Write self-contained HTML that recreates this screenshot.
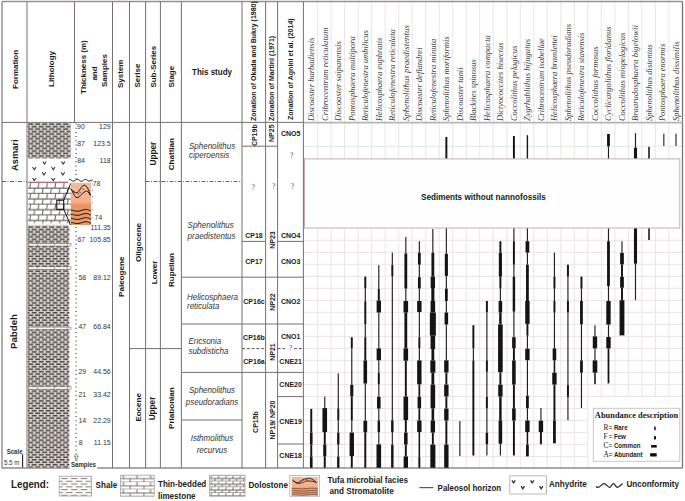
<!DOCTYPE html><html><head><meta charset="utf-8"><style>html,body{margin:0;padding:0;background:#fff;}svg{display:block;}</style></head><body>
<svg width="685" height="501" viewBox="0 0 685 501">
<defs>
<pattern id="shd" patternUnits="userSpaceOnUse" x="28" y="0.4" width="7" height="4.9"><rect width="7" height="4.9" fill="#cec7c3"/><rect x="0.1" y="0.38" width="5.2" height="1.5" rx="0.7" fill="#524a47"/><rect x="3.6" y="2.83" width="5.2" height="1.5" rx="0.7" fill="#524a47"/><rect x="-3.4" y="2.83" width="5.2" height="1.5" rx="0.7" fill="#524a47"/><ellipse cx="6.0" cy="1.1" rx="0.6" ry="0.8" fill="#f2eeec"/><ellipse cx="2.5" cy="3.55" rx="0.6" ry="0.8" fill="#f2eeec"/></pattern>
<pattern id="dol" patternUnits="userSpaceOnUse" x="28" y="183" width="8.4" height="10.8"><rect width="8.4" height="10.8" fill="#fff"/><line x1="0" y1="5.1" x2="8.4" y2="5.1" stroke="#4a4442" stroke-width="1.0"/><line x1="0" y1="10.5" x2="8.4" y2="10.5" stroke="#4a4442" stroke-width="1.0"/><line x1="1.6" y1="5.1" x2="2.6" y2="0" stroke="#4a4442" stroke-width="0.9"/><line x1="5.8" y1="10.5" x2="6.8" y2="5.1" stroke="#4a4442" stroke-width="0.9"/></pattern>
<pattern id="shl" patternUnits="userSpaceOnUse" x="60.5" y="477" width="9.8" height="5.6"><rect width="9.8" height="5.6" fill="#fff"/><rect x="0.6" y="1.0" width="6.6" height="1.0" fill="#807674"/><rect x="5.5" y="3.8" width="6.6" height="1.0" fill="#807674"/><rect x="-4.3" y="3.8" width="6.6" height="1.0" fill="#807674"/></pattern>
<pattern id="lim" patternUnits="userSpaceOnUse" x="120.4" y="475" width="13.6" height="7.2"><rect width="13.6" height="7.2" fill="#fff"/><line x1="0" y1="3.6" x2="13.6" y2="3.6" stroke="#6a6260" stroke-width="0.9"/><line x1="0" y1="7.2" x2="13.6" y2="7.2" stroke="#6a6260" stroke-width="0.9"/><line x1="3" y1="0" x2="3" y2="3.6" stroke="#6a6260" stroke-width="0.9"/><line x1="9.8" y1="3.6" x2="9.8" y2="7.2" stroke="#6a6260" stroke-width="0.9"/></pattern>
<pattern id="dolL" patternUnits="userSpaceOnUse" x="209.6" y="475.6" width="7.2" height="5.8"><rect width="7.2" height="5.8" fill="#fff"/><line x1="0" y1="2.9" x2="7.2" y2="2.9" stroke="#5a5250" stroke-width="0.9"/><line x1="0" y1="5.8" x2="7.2" y2="5.8" stroke="#5a5250" stroke-width="0.9"/><line x1="1.4" y1="2.9" x2="2.2" y2="0" stroke="#5a5250" stroke-width="0.8"/><line x1="5.0" y1="5.8" x2="5.8" y2="2.9" stroke="#5a5250" stroke-width="0.8"/></pattern>
<linearGradient id="tufa" x1="0" y1="0" x2="0" y2="1"><stop offset="0" stop-color="#f6ba9a"/><stop offset="0.45" stop-color="#f4b08e"/><stop offset="0.53" stop-color="#ec9462"/><stop offset="1" stop-color="#ee9a6a"/></linearGradient>
</defs>
<rect width="685" height="501" fill="#fff"/>
<line x1="317.61" y1="1.50" x2="317.61" y2="468.00" stroke="#e9e2e2" stroke-width="0.9"/>
<line x1="331.12" y1="1.50" x2="331.12" y2="468.00" stroke="#e9e2e2" stroke-width="0.9"/>
<line x1="344.63" y1="1.50" x2="344.63" y2="468.00" stroke="#e9e2e2" stroke-width="0.9"/>
<line x1="358.14" y1="1.50" x2="358.14" y2="468.00" stroke="#e9e2e2" stroke-width="0.9"/>
<line x1="371.65" y1="1.50" x2="371.65" y2="468.00" stroke="#e9e2e2" stroke-width="0.9"/>
<line x1="385.16" y1="1.50" x2="385.16" y2="468.00" stroke="#e9e2e2" stroke-width="0.9"/>
<line x1="398.67" y1="1.50" x2="398.67" y2="468.00" stroke="#e9e2e2" stroke-width="0.9"/>
<line x1="412.18" y1="1.50" x2="412.18" y2="468.00" stroke="#e9e2e2" stroke-width="0.9"/>
<line x1="425.69" y1="1.50" x2="425.69" y2="468.00" stroke="#e9e2e2" stroke-width="0.9"/>
<line x1="439.20" y1="1.50" x2="439.20" y2="468.00" stroke="#e9e2e2" stroke-width="0.9"/>
<line x1="452.71" y1="1.50" x2="452.71" y2="468.00" stroke="#e9e2e2" stroke-width="0.9"/>
<line x1="466.22" y1="1.50" x2="466.22" y2="468.00" stroke="#e9e2e2" stroke-width="0.9"/>
<line x1="479.73" y1="1.50" x2="479.73" y2="468.00" stroke="#e9e2e2" stroke-width="0.9"/>
<line x1="493.24" y1="1.50" x2="493.24" y2="468.00" stroke="#e9e2e2" stroke-width="0.9"/>
<line x1="506.75" y1="1.50" x2="506.75" y2="468.00" stroke="#e9e2e2" stroke-width="0.9"/>
<line x1="520.26" y1="1.50" x2="520.26" y2="468.00" stroke="#e9e2e2" stroke-width="0.9"/>
<line x1="533.77" y1="1.50" x2="533.77" y2="468.00" stroke="#e9e2e2" stroke-width="0.9"/>
<line x1="547.28" y1="1.50" x2="547.28" y2="468.00" stroke="#e9e2e2" stroke-width="0.9"/>
<line x1="560.79" y1="1.50" x2="560.79" y2="468.00" stroke="#e9e2e2" stroke-width="0.9"/>
<line x1="574.30" y1="1.50" x2="574.30" y2="468.00" stroke="#e9e2e2" stroke-width="0.9"/>
<line x1="587.81" y1="1.50" x2="587.81" y2="468.00" stroke="#e9e2e2" stroke-width="0.9"/>
<line x1="601.32" y1="1.50" x2="601.32" y2="396.60" stroke="#e9e2e2" stroke-width="0.9"/>
<line x1="614.83" y1="1.50" x2="614.83" y2="396.60" stroke="#e9e2e2" stroke-width="0.9"/>
<line x1="628.34" y1="1.50" x2="628.34" y2="396.60" stroke="#e9e2e2" stroke-width="0.9"/>
<line x1="641.85" y1="1.50" x2="641.85" y2="396.60" stroke="#e9e2e2" stroke-width="0.9"/>
<line x1="655.36" y1="1.50" x2="655.36" y2="396.60" stroke="#e9e2e2" stroke-width="0.9"/>
<line x1="668.87" y1="1.50" x2="668.87" y2="396.60" stroke="#e9e2e2" stroke-width="0.9"/>
<line x1="303.40" y1="146.30" x2="682.50" y2="146.30" stroke="#e9e2e2" stroke-width="0.9"/>
<line x1="303.40" y1="240.30" x2="682.50" y2="240.30" stroke="#e9e2e2" stroke-width="0.9"/>
<line x1="303.40" y1="252.31" x2="682.50" y2="252.31" stroke="#e9e2e2" stroke-width="0.9"/>
<line x1="303.40" y1="264.32" x2="682.50" y2="264.32" stroke="#e9e2e2" stroke-width="0.9"/>
<line x1="303.40" y1="276.33" x2="682.50" y2="276.33" stroke="#e9e2e2" stroke-width="0.9"/>
<line x1="303.40" y1="288.34" x2="682.50" y2="288.34" stroke="#e9e2e2" stroke-width="0.9"/>
<line x1="303.40" y1="300.35" x2="682.50" y2="300.35" stroke="#e9e2e2" stroke-width="0.9"/>
<line x1="303.40" y1="312.36" x2="682.50" y2="312.36" stroke="#e9e2e2" stroke-width="0.9"/>
<line x1="303.40" y1="324.37" x2="682.50" y2="324.37" stroke="#e9e2e2" stroke-width="0.9"/>
<line x1="303.40" y1="336.38" x2="682.50" y2="336.38" stroke="#e9e2e2" stroke-width="0.9"/>
<line x1="303.40" y1="348.39" x2="682.50" y2="348.39" stroke="#e9e2e2" stroke-width="0.9"/>
<line x1="303.40" y1="360.40" x2="682.50" y2="360.40" stroke="#e9e2e2" stroke-width="0.9"/>
<line x1="303.40" y1="372.41" x2="682.50" y2="372.41" stroke="#e9e2e2" stroke-width="0.9"/>
<line x1="303.40" y1="384.42" x2="682.50" y2="384.42" stroke="#e9e2e2" stroke-width="0.9"/>
<line x1="303.40" y1="396.43" x2="682.50" y2="396.43" stroke="#e9e2e2" stroke-width="0.9"/>
<line x1="303.40" y1="408.44" x2="587.81" y2="408.44" stroke="#e9e2e2" stroke-width="0.9"/>
<line x1="303.40" y1="420.45" x2="587.81" y2="420.45" stroke="#e9e2e2" stroke-width="0.9"/>
<line x1="303.40" y1="432.46" x2="587.81" y2="432.46" stroke="#e9e2e2" stroke-width="0.9"/>
<line x1="303.40" y1="444.47" x2="587.81" y2="444.47" stroke="#e9e2e2" stroke-width="0.9"/>
<line x1="303.40" y1="456.48" x2="587.81" y2="456.48" stroke="#e9e2e2" stroke-width="0.9"/>
<rect x="310.28" y="408.90" width="1.95" height="23.70" fill="#141414"/>
<rect x="309.94" y="432.60" width="2.63" height="12.00" fill="#141414"/>
<rect x="310.28" y="444.60" width="1.95" height="11.90" fill="#141414"/>
<rect x="309.94" y="456.50" width="2.63" height="11.50" fill="#141414"/>
<rect x="324.19" y="396.60" width="1.15" height="11.50" fill="#1e1e1e"/>
<rect x="322.46" y="408.10" width="4.60" height="23.90" fill="#141414"/>
<rect x="323.79" y="432.00" width="1.95" height="12.50" fill="#141414"/>
<rect x="323.21" y="444.50" width="3.10" height="11.80" fill="#141414"/>
<rect x="323.79" y="456.30" width="1.95" height="11.70" fill="#141414"/>
<rect x="337.70" y="373.30" width="1.15" height="35.00" fill="#1e1e1e"/>
<rect x="337.30" y="408.30" width="1.95" height="12.10" fill="#141414"/>
<rect x="337.70" y="420.40" width="1.15" height="12.20" fill="#1e1e1e"/>
<rect x="337.10" y="432.60" width="2.34" height="12.00" fill="#141414"/>
<rect x="337.70" y="444.60" width="1.15" height="11.90" fill="#1e1e1e"/>
<rect x="337.10" y="456.50" width="2.34" height="11.50" fill="#141414"/>
<rect x="350.81" y="337.20" width="1.95" height="11.20" fill="#141414"/>
<rect x="351.21" y="348.40" width="1.15" height="36.40" fill="#1e1e1e"/>
<rect x="350.23" y="384.80" width="3.10" height="11.60" fill="#141414"/>
<rect x="350.81" y="396.40" width="1.95" height="24.10" fill="#141414"/>
<rect x="351.21" y="420.50" width="1.15" height="12.10" fill="#1e1e1e"/>
<rect x="349.60" y="432.60" width="4.37" height="23.40" fill="#141414"/>
<rect x="350.81" y="456.00" width="1.95" height="12.00" fill="#141414"/>
<rect x="364.32" y="276.60" width="1.95" height="11.40" fill="#141414"/>
<rect x="364.72" y="288.00" width="1.15" height="13.20" fill="#1e1e1e"/>
<rect x="364.32" y="301.20" width="1.95" height="23.00" fill="#141414"/>
<rect x="364.72" y="324.20" width="1.15" height="13.00" fill="#1e1e1e"/>
<rect x="364.32" y="337.20" width="1.95" height="23.20" fill="#141414"/>
<rect x="363.51" y="360.40" width="3.56" height="23.20" fill="#141414"/>
<rect x="364.72" y="383.60" width="1.15" height="37.10" fill="#1e1e1e"/>
<rect x="363.44" y="420.70" width="3.72" height="11.50" fill="#141414"/>
<rect x="364.32" y="432.20" width="1.95" height="35.80" fill="#141414"/>
<rect x="378.23" y="265.10" width="1.15" height="23.70" fill="#1e1e1e"/>
<rect x="377.83" y="288.80" width="1.95" height="11.70" fill="#141414"/>
<rect x="376.62" y="300.50" width="4.37" height="12.00" fill="#141414"/>
<rect x="378.23" y="312.50" width="1.15" height="35.90" fill="#1e1e1e"/>
<rect x="376.62" y="348.40" width="4.37" height="11.90" fill="#141414"/>
<rect x="378.23" y="360.30" width="1.15" height="12.40" fill="#1e1e1e"/>
<rect x="377.83" y="372.70" width="1.95" height="11.70" fill="#141414"/>
<rect x="378.23" y="384.40" width="1.15" height="12.40" fill="#1e1e1e"/>
<rect x="377.02" y="396.80" width="3.56" height="11.80" fill="#141414"/>
<rect x="378.23" y="408.60" width="1.15" height="11.80" fill="#1e1e1e"/>
<rect x="377.59" y="420.40" width="2.44" height="11.60" fill="#141414"/>
<rect x="378.23" y="432.00" width="1.15" height="12.40" fill="#1e1e1e"/>
<rect x="376.50" y="444.40" width="4.60" height="23.60" fill="#141414"/>
<rect x="391.74" y="252.60" width="1.15" height="12.30" fill="#1e1e1e"/>
<rect x="391.34" y="264.90" width="1.95" height="11.20" fill="#141414"/>
<rect x="391.74" y="276.10" width="1.15" height="144.20" fill="#1e1e1e"/>
<rect x="391.10" y="420.30" width="2.44" height="11.70" fill="#141414"/>
<rect x="391.74" y="432.00" width="1.15" height="12.60" fill="#1e1e1e"/>
<rect x="391.10" y="444.60" width="2.44" height="23.40" fill="#141414"/>
<rect x="405.25" y="237.00" width="1.15" height="16.40" fill="#1e1e1e"/>
<rect x="404.43" y="253.40" width="2.79" height="35.20" fill="#141414"/>
<rect x="405.25" y="288.60" width="1.15" height="12.40" fill="#1e1e1e"/>
<rect x="403.52" y="301.00" width="4.60" height="11.50" fill="#141414"/>
<rect x="404.43" y="312.50" width="2.79" height="35.90" fill="#141414"/>
<rect x="403.52" y="348.40" width="4.60" height="12.30" fill="#141414"/>
<rect x="404.85" y="360.70" width="1.95" height="35.90" fill="#141414"/>
<rect x="403.52" y="396.60" width="4.60" height="23.40" fill="#141414"/>
<rect x="404.85" y="420.00" width="1.95" height="12.60" fill="#141414"/>
<rect x="404.04" y="432.60" width="3.56" height="12.00" fill="#141414"/>
<rect x="404.85" y="444.60" width="1.95" height="11.80" fill="#141414"/>
<rect x="403.64" y="456.40" width="4.37" height="11.60" fill="#141414"/>
<rect x="418.76" y="241.20" width="1.15" height="11.50" fill="#1e1e1e"/>
<rect x="417.94" y="252.70" width="2.79" height="12.00" fill="#141414"/>
<rect x="418.76" y="264.70" width="1.15" height="12.40" fill="#1e1e1e"/>
<rect x="417.94" y="277.10" width="2.79" height="11.50" fill="#141414"/>
<rect x="418.76" y="288.60" width="1.15" height="12.40" fill="#1e1e1e"/>
<rect x="417.15" y="301.00" width="4.37" height="11.00" fill="#141414"/>
<rect x="418.76" y="312.00" width="1.15" height="25.20" fill="#1e1e1e"/>
<rect x="418.36" y="337.20" width="1.95" height="10.80" fill="#141414"/>
<rect x="418.76" y="348.00" width="1.15" height="12.40" fill="#1e1e1e"/>
<rect x="417.15" y="360.40" width="4.37" height="23.90" fill="#141414"/>
<rect x="418.46" y="384.30" width="1.75" height="12.50" fill="#141414"/>
<rect x="417.55" y="396.80" width="3.56" height="11.50" fill="#141414"/>
<rect x="418.46" y="408.30" width="1.75" height="12.20" fill="#141414"/>
<rect x="417.15" y="420.50" width="4.37" height="11.50" fill="#141414"/>
<rect x="418.56" y="432.00" width="1.56" height="24.40" fill="#141414"/>
<rect x="418.36" y="456.40" width="1.95" height="11.60" fill="#141414"/>
<rect x="432.27" y="229.00" width="1.15" height="23.70" fill="#1e1e1e"/>
<rect x="431.45" y="252.70" width="2.79" height="23.90" fill="#141414"/>
<rect x="430.66" y="276.60" width="4.37" height="11.40" fill="#141414"/>
<rect x="431.30" y="288.00" width="3.10" height="13.00" fill="#141414"/>
<rect x="430.55" y="301.00" width="4.60" height="11.50" fill="#141414"/>
<rect x="429.86" y="312.50" width="5.98" height="23.20" fill="#141414"/>
<rect x="430.55" y="335.70" width="4.60" height="13.30" fill="#141414"/>
<rect x="431.45" y="349.00" width="2.79" height="11.40" fill="#141414"/>
<rect x="430.32" y="360.40" width="5.06" height="12.30" fill="#141414"/>
<rect x="431.45" y="372.70" width="2.79" height="11.90" fill="#141414"/>
<rect x="430.55" y="384.60" width="4.60" height="23.70" fill="#141414"/>
<rect x="431.53" y="408.30" width="2.63" height="12.20" fill="#141414"/>
<rect x="430.66" y="420.50" width="4.37" height="12.10" fill="#141414"/>
<rect x="431.87" y="432.60" width="1.95" height="12.00" fill="#141414"/>
<rect x="430.32" y="444.60" width="5.06" height="23.40" fill="#141414"/>
<rect x="445.38" y="137.00" width="1.95" height="21.90" fill="#141414"/>
<rect x="445.78" y="228.00" width="1.15" height="25.80" fill="#1e1e1e"/>
<rect x="444.81" y="253.80" width="3.10" height="22.10" fill="#141414"/>
<rect x="445.78" y="275.90" width="1.15" height="12.70" fill="#1e1e1e"/>
<rect x="444.96" y="288.60" width="2.79" height="12.40" fill="#141414"/>
<rect x="445.78" y="301.00" width="1.15" height="11.50" fill="#1e1e1e"/>
<rect x="444.57" y="312.50" width="3.56" height="12.00" fill="#141414"/>
<rect x="445.78" y="324.50" width="1.15" height="35.80" fill="#1e1e1e"/>
<rect x="444.17" y="360.30" width="4.37" height="12.10" fill="#141414"/>
<rect x="445.38" y="372.40" width="1.95" height="12.20" fill="#141414"/>
<rect x="444.17" y="384.60" width="4.37" height="11.80" fill="#141414"/>
<rect x="445.38" y="396.40" width="1.95" height="12.20" fill="#141414"/>
<rect x="444.17" y="408.60" width="4.37" height="11.80" fill="#141414"/>
<rect x="445.38" y="420.40" width="1.95" height="24.20" fill="#141414"/>
<rect x="444.17" y="444.60" width="4.37" height="23.40" fill="#141414"/>
<rect x="459.29" y="421.00" width="1.15" height="35.00" fill="#1e1e1e"/>
<rect x="472.40" y="325.20" width="1.95" height="23.20" fill="#141414"/>
<rect x="472.80" y="348.40" width="1.15" height="12.00" fill="#1e1e1e"/>
<rect x="472.40" y="360.40" width="1.95" height="95.10" fill="#141414"/>
<rect x="485.91" y="301.00" width="1.95" height="11.20" fill="#141414"/>
<rect x="486.31" y="312.20" width="1.15" height="48.10" fill="#1e1e1e"/>
<rect x="485.91" y="360.30" width="1.95" height="11.50" fill="#141414"/>
<rect x="486.31" y="371.80" width="1.15" height="25.20" fill="#1e1e1e"/>
<rect x="485.91" y="397.00" width="1.95" height="11.30" fill="#141414"/>
<rect x="486.31" y="408.30" width="1.15" height="24.30" fill="#1e1e1e"/>
<rect x="485.67" y="432.60" width="2.44" height="11.80" fill="#141414"/>
<rect x="486.31" y="444.40" width="1.15" height="11.10" fill="#1e1e1e"/>
<rect x="499.42" y="241.20" width="1.95" height="11.50" fill="#141414"/>
<rect x="498.84" y="252.70" width="3.10" height="23.90" fill="#141414"/>
<rect x="499.42" y="276.60" width="1.95" height="12.00" fill="#141414"/>
<rect x="499.82" y="288.60" width="1.15" height="12.40" fill="#1e1e1e"/>
<rect x="498.61" y="301.00" width="3.56" height="11.50" fill="#141414"/>
<rect x="499.18" y="312.50" width="2.44" height="12.00" fill="#141414"/>
<rect x="498.09" y="324.50" width="4.60" height="47.70" fill="#141414"/>
<rect x="499.42" y="372.20" width="1.95" height="12.60" fill="#141414"/>
<rect x="498.21" y="384.80" width="4.37" height="11.80" fill="#141414"/>
<rect x="499.18" y="396.60" width="2.44" height="23.70" fill="#141414"/>
<rect x="498.61" y="420.30" width="3.56" height="23.50" fill="#141414"/>
<rect x="499.82" y="443.80" width="1.15" height="11.70" fill="#1e1e1e"/>
<rect x="512.93" y="136.10" width="1.95" height="22.80" fill="#141414"/>
<rect x="513.33" y="228.00" width="1.15" height="13.20" fill="#1e1e1e"/>
<rect x="512.93" y="241.20" width="1.95" height="23.50" fill="#141414"/>
<rect x="513.33" y="264.70" width="1.15" height="11.90" fill="#1e1e1e"/>
<rect x="512.69" y="276.60" width="2.44" height="35.10" fill="#141414"/>
<rect x="513.33" y="311.70" width="1.15" height="25.50" fill="#1e1e1e"/>
<rect x="512.12" y="337.20" width="3.56" height="11.00" fill="#141414"/>
<rect x="512.93" y="348.20" width="1.95" height="12.20" fill="#141414"/>
<rect x="512.12" y="360.40" width="3.56" height="24.20" fill="#141414"/>
<rect x="512.93" y="384.60" width="1.95" height="23.70" fill="#141414"/>
<rect x="512.12" y="408.30" width="3.56" height="12.30" fill="#141414"/>
<rect x="512.93" y="420.60" width="1.95" height="34.90" fill="#141414"/>
<rect x="526.72" y="135.20" width="1.38" height="23.70" fill="#141414"/>
<rect x="526.84" y="228.00" width="1.15" height="13.20" fill="#1e1e1e"/>
<rect x="525.55" y="241.20" width="3.72" height="11.50" fill="#141414"/>
<rect x="526.84" y="252.70" width="1.15" height="12.00" fill="#1e1e1e"/>
<rect x="526.02" y="264.70" width="2.79" height="36.30" fill="#141414"/>
<rect x="525.23" y="301.00" width="4.37" height="22.90" fill="#141414"/>
<rect x="526.44" y="323.90" width="1.95" height="11.80" fill="#141414"/>
<rect x="526.84" y="335.70" width="1.15" height="13.00" fill="#1e1e1e"/>
<rect x="525.23" y="348.70" width="4.37" height="11.50" fill="#141414"/>
<rect x="526.84" y="360.20" width="1.15" height="35.40" fill="#1e1e1e"/>
<rect x="526.02" y="395.60" width="2.79" height="12.70" fill="#141414"/>
<rect x="526.84" y="408.30" width="1.15" height="12.20" fill="#1e1e1e"/>
<rect x="525.23" y="420.50" width="4.37" height="11.50" fill="#141414"/>
<rect x="526.63" y="432.00" width="1.56" height="12.60" fill="#141414"/>
<rect x="526.02" y="444.60" width="2.79" height="11.80" fill="#141414"/>
<rect x="540.35" y="408.10" width="1.15" height="12.60" fill="#1e1e1e"/>
<rect x="538.74" y="420.70" width="4.37" height="11.30" fill="#141414"/>
<rect x="539.95" y="432.00" width="1.95" height="12.30" fill="#141414"/>
<rect x="553.86" y="252.70" width="1.15" height="23.90" fill="#1e1e1e"/>
<rect x="553.46" y="276.60" width="1.95" height="12.00" fill="#141414"/>
<rect x="553.86" y="288.60" width="1.15" height="12.40" fill="#1e1e1e"/>
<rect x="553.46" y="301.00" width="1.95" height="11.50" fill="#141414"/>
<rect x="553.86" y="312.50" width="1.15" height="35.90" fill="#1e1e1e"/>
<rect x="552.65" y="348.40" width="3.56" height="11.90" fill="#141414"/>
<rect x="553.66" y="360.30" width="1.56" height="12.40" fill="#141414"/>
<rect x="552.25" y="372.70" width="4.37" height="11.90" fill="#141414"/>
<rect x="553.46" y="384.60" width="1.95" height="36.10" fill="#141414"/>
<rect x="553.04" y="420.70" width="2.79" height="22.60" fill="#141414"/>
<rect x="566.97" y="264.70" width="1.95" height="11.90" fill="#141414"/>
<rect x="567.37" y="276.60" width="1.15" height="24.40" fill="#1e1e1e"/>
<rect x="566.97" y="301.00" width="1.95" height="11.50" fill="#141414"/>
<rect x="567.37" y="312.50" width="1.15" height="72.50" fill="#1e1e1e"/>
<rect x="566.97" y="385.00" width="1.95" height="11.90" fill="#141414"/>
<rect x="567.37" y="396.90" width="1.15" height="23.30" fill="#1e1e1e"/>
<rect x="580.48" y="276.60" width="1.95" height="12.00" fill="#141414"/>
<rect x="580.88" y="288.60" width="1.15" height="12.40" fill="#1e1e1e"/>
<rect x="580.06" y="301.00" width="2.79" height="23.40" fill="#141414"/>
<rect x="580.88" y="324.40" width="1.15" height="36.00" fill="#1e1e1e"/>
<rect x="580.06" y="360.40" width="2.79" height="12.30" fill="#141414"/>
<rect x="580.88" y="372.70" width="1.15" height="35.40" fill="#1e1e1e"/>
<rect x="594.39" y="325.20" width="1.15" height="11.20" fill="#1e1e1e"/>
<rect x="592.78" y="336.40" width="4.37" height="12.00" fill="#141414"/>
<rect x="594.39" y="348.40" width="1.15" height="12.00" fill="#1e1e1e"/>
<rect x="592.67" y="360.40" width="4.60" height="12.30" fill="#141414"/>
<rect x="594.19" y="372.70" width="1.56" height="11.50" fill="#141414"/>
<rect x="607.08" y="134.00" width="2.79" height="12.30" fill="#141414"/>
<rect x="607.90" y="146.30" width="1.15" height="12.60" fill="#1e1e1e"/>
<rect x="607.90" y="228.00" width="1.15" height="13.20" fill="#1e1e1e"/>
<rect x="607.08" y="241.20" width="2.79" height="44.80" fill="#141414"/>
<rect x="607.90" y="286.00" width="1.15" height="15.00" fill="#1e1e1e"/>
<rect x="606.29" y="301.00" width="4.37" height="23.60" fill="#141414"/>
<rect x="607.90" y="324.60" width="1.15" height="12.40" fill="#1e1e1e"/>
<rect x="606.29" y="337.00" width="4.37" height="11.40" fill="#141414"/>
<rect x="607.60" y="348.40" width="1.75" height="35.00" fill="#141414"/>
<rect x="621.41" y="241.20" width="1.15" height="11.70" fill="#1e1e1e"/>
<rect x="620.12" y="252.90" width="3.72" height="11.50" fill="#141414"/>
<rect x="621.01" y="264.40" width="1.95" height="12.50" fill="#141414"/>
<rect x="620.12" y="276.90" width="3.72" height="10.90" fill="#141414"/>
<rect x="621.01" y="287.80" width="1.95" height="12.40" fill="#141414"/>
<rect x="619.57" y="300.20" width="4.83" height="35.20" fill="#141414"/>
<rect x="634.92" y="133.10" width="1.15" height="14.60" fill="#1e1e1e"/>
<rect x="633.95" y="147.70" width="3.10" height="11.20" fill="#141414"/>
<rect x="633.95" y="228.00" width="3.10" height="35.70" fill="#141414"/>
<rect x="634.92" y="263.70" width="1.15" height="36.50" fill="#1e1e1e"/>
<rect x="648.23" y="146.80" width="1.56" height="12.10" fill="#141414"/>
<rect x="648.23" y="228.00" width="1.56" height="12.00" fill="#141414"/>
<rect x="663.13" y="133.70" width="1.36" height="12.30" fill="#4a4a4a"/>
<rect x="675.34" y="133.70" width="1.36" height="12.30" fill="#4a4a4a"/>
<rect x="304.5" y="158.9" width="375.3" height="69.1" fill="#fffefe" stroke="#c4b0b0" stroke-width="1"/>
<text x="421.00" y="199.60" font-family="Liberation Sans, sans-serif" font-size="8.15" font-weight="bold" text-anchor="start" fill="#1a1a1a" transform="matrix(1,0,0,1.080,0,-15.968)">Sediments without nannofossils</text>
<rect x="593.3" y="408.3" width="86.5" height="53" fill="#fff" stroke="#c8c0c0" stroke-width="0.9"/>
<text x="636.50" y="418.20" font-family="Liberation Serif, serif" font-size="8.4" font-weight="bold" text-anchor="middle" fill="#1a1a1a" transform="matrix(1,0,0,1.080,0,-33.456)">Abundance description</text>
<text x="603.40" y="430.20" font-family="Liberation Serif, serif" font-size="7.4" text-anchor="start" fill="#111" transform="matrix(1,0,0,1.080,0,-34.416)">R</text>
<text x="608.50" y="429.90" font-family="Liberation Sans, sans-serif" font-size="6.6" text-anchor="start" fill="#222" transform="matrix(1,0,0,1.080,0,-34.392)">=</text>
<text x="613.90" y="430.20" font-family="Liberation Sans, sans-serif" font-size="6.15" font-weight="bold" text-anchor="start" fill="#222" transform="matrix(1,0,0,1.080,0,-34.416)">Rare</text>
<rect x="654.20" y="426.60" width="1.50" height="3.60" fill="#111"/>
<text x="603.40" y="438.90" font-family="Liberation Serif, serif" font-size="7.4" text-anchor="start" fill="#111" transform="matrix(1,0,0,1.080,0,-35.112)">F</text>
<text x="608.50" y="438.60" font-family="Liberation Sans, sans-serif" font-size="6.6" text-anchor="start" fill="#222" transform="matrix(1,0,0,1.080,0,-35.088)">=</text>
<text x="613.90" y="438.90" font-family="Liberation Sans, sans-serif" font-size="6.15" font-weight="bold" text-anchor="start" fill="#222" transform="matrix(1,0,0,1.080,0,-35.112)">Few</text>
<rect x="654.00" y="436.20" width="2.00" height="3.20" fill="#111"/>
<text x="603.40" y="448.30" font-family="Liberation Serif, serif" font-size="7.4" text-anchor="start" fill="#111" transform="matrix(1,0,0,1.080,0,-35.864)">C</text>
<text x="608.50" y="448.00" font-family="Liberation Sans, sans-serif" font-size="6.6" text-anchor="start" fill="#222" transform="matrix(1,0,0,1.080,0,-35.840)">=</text>
<text x="613.90" y="448.30" font-family="Liberation Sans, sans-serif" font-size="6.15" font-weight="bold" text-anchor="start" fill="#222" transform="matrix(1,0,0,1.080,0,-35.864)">Common</text>
<rect x="651.10" y="445.00" width="5.60" height="2.60" fill="#111"/>
<text x="603.40" y="457.20" font-family="Liberation Serif, serif" font-size="7.4" text-anchor="start" fill="#111" transform="matrix(1,0,0,1.080,0,-36.576)">A</text>
<text x="608.50" y="456.90" font-family="Liberation Sans, sans-serif" font-size="6.6" text-anchor="start" fill="#222" transform="matrix(1,0,0,1.080,0,-36.552)">=</text>
<text x="613.90" y="457.20" font-family="Liberation Sans, sans-serif" font-size="6.15" font-weight="bold" text-anchor="start" fill="#222" transform="matrix(1,0,0,1.080,0,-36.576)">Abundant</text>
<rect x="650.10" y="453.20" width="6.60" height="3.30" fill="#111"/>
<text x="314.15" y="121.10" font-family="Liberation Serif, serif" font-size="9.0" font-style="italic" text-anchor="start" fill="#383838" transform="rotate(-90 314.15 121.10)" textLength="83.5" lengthAdjust="spacingAndGlyphs">Discoaster barbadiensis</text>
<text x="327.66" y="121.10" font-family="Liberation Serif, serif" font-size="9.0" font-style="italic" text-anchor="start" fill="#383838" transform="rotate(-90 327.66 121.10)" textLength="93.5" lengthAdjust="spacingAndGlyphs">Cribrocentrum reticulatum</text>
<text x="341.17" y="121.10" font-family="Liberation Serif, serif" font-size="9.0" font-style="italic" text-anchor="start" fill="#383838" transform="rotate(-90 341.17 121.10)" textLength="80.0" lengthAdjust="spacingAndGlyphs">Discoaster saipanensis</text>
<text x="354.68" y="121.10" font-family="Liberation Serif, serif" font-size="9.0" font-style="italic" text-anchor="start" fill="#383838" transform="rotate(-90 354.68 121.10)" textLength="85.0" lengthAdjust="spacingAndGlyphs">Pontosphaera multipora</text>
<text x="368.19" y="121.10" font-family="Liberation Serif, serif" font-size="9.0" font-style="italic" text-anchor="start" fill="#383838" transform="rotate(-90 368.19 121.10)" textLength="91.0" lengthAdjust="spacingAndGlyphs">Reticulofenestra umbilicus</text>
<text x="381.70" y="121.10" font-family="Liberation Serif, serif" font-size="9.0" font-style="italic" text-anchor="start" fill="#383838" transform="rotate(-90 381.70 121.10)" textLength="83.5" lengthAdjust="spacingAndGlyphs">Helicosphaera euphratis</text>
<text x="395.21" y="121.10" font-family="Liberation Serif, serif" font-size="9.0" font-style="italic" text-anchor="start" fill="#383838" transform="rotate(-90 395.21 121.10)" textLength="92.0" lengthAdjust="spacingAndGlyphs">Reticulofenestra reticulata</text>
<text x="408.72" y="121.10" font-family="Liberation Serif, serif" font-size="9.0" font-style="italic" text-anchor="start" fill="#383838" transform="rotate(-90 408.72 121.10)" textLength="96.0" lengthAdjust="spacingAndGlyphs">Sphenolithus  praedistentus</text>
<text x="422.23" y="121.10" font-family="Liberation Serif, serif" font-size="9.0" font-style="italic" text-anchor="start" fill="#383838" transform="rotate(-90 422.23 121.10)" textLength="73.6" lengthAdjust="spacingAndGlyphs">Discoaster deflandrei</text>
<text x="435.75" y="121.10" font-family="Liberation Serif, serif" font-size="9.0" font-style="italic" text-anchor="start" fill="#383838" transform="rotate(-90 435.75 121.10)" textLength="82.3" lengthAdjust="spacingAndGlyphs">Reticulofenestra minuta</text>
<text x="449.25" y="121.10" font-family="Liberation Serif, serif" font-size="9.0" font-style="italic" text-anchor="start" fill="#383838" transform="rotate(-90 449.25 121.10)" textLength="84.8" lengthAdjust="spacingAndGlyphs">Sphenolithus moriformis</text>
<text x="462.76" y="121.10" font-family="Liberation Serif, serif" font-size="9.0" font-style="italic" text-anchor="start" fill="#383838" transform="rotate(-90 462.76 121.10)" textLength="53.6" lengthAdjust="spacingAndGlyphs">Discoaster tanii</text>
<text x="476.27" y="121.10" font-family="Liberation Serif, serif" font-size="9.0" font-style="italic" text-anchor="start" fill="#383838" transform="rotate(-90 476.27 121.10)" textLength="61.8" lengthAdjust="spacingAndGlyphs">Blackites spinosus</text>
<text x="489.78" y="121.10" font-family="Liberation Serif, serif" font-size="9.0" font-style="italic" text-anchor="start" fill="#383838" transform="rotate(-90 489.78 121.10)" textLength="86.0" lengthAdjust="spacingAndGlyphs">Helicosphaera compacta</text>
<text x="503.29" y="121.10" font-family="Liberation Serif, serif" font-size="9.0" font-style="italic" text-anchor="start" fill="#383838" transform="rotate(-90 503.29 121.10)" textLength="78.6" lengthAdjust="spacingAndGlyphs">Dictyococcites bisectus</text>
<text x="516.80" y="121.10" font-family="Liberation Serif, serif" font-size="9.0" font-style="italic" text-anchor="start" fill="#383838" transform="rotate(-90 516.80 121.10)" textLength="75.3" lengthAdjust="spacingAndGlyphs">Coccolithus pelagicus</text>
<text x="530.31" y="121.10" font-family="Liberation Serif, serif" font-size="9.0" font-style="italic" text-anchor="start" fill="#383838" transform="rotate(-90 530.31 121.10)" textLength="82.3" lengthAdjust="spacingAndGlyphs">Zygrhablithus bijugatus</text>
<text x="543.82" y="121.10" font-family="Liberation Serif, serif" font-size="9.0" font-style="italic" text-anchor="start" fill="#383838" transform="rotate(-90 543.82 121.10)" textLength="82.8" lengthAdjust="spacingAndGlyphs">Cribrocentrum isabellae</text>
<text x="557.34" y="121.10" font-family="Liberation Serif, serif" font-size="9.0" font-style="italic" text-anchor="start" fill="#383838" transform="rotate(-90 557.34 121.10)" textLength="86.0" lengthAdjust="spacingAndGlyphs">Helicosphaera bramlettei</text>
<text x="570.85" y="121.10" font-family="Liberation Serif, serif" font-size="9.0" font-style="italic" text-anchor="start" fill="#383838" transform="rotate(-90 570.85 121.10)" textLength="97.3" lengthAdjust="spacingAndGlyphs">Sphenolithus  pseudoradians</text>
<text x="584.36" y="121.10" font-family="Liberation Serif, serif" font-size="9.0" font-style="italic" text-anchor="start" fill="#383838" transform="rotate(-90 584.36 121.10)" textLength="88.5" lengthAdjust="spacingAndGlyphs">Reticulofenestra stavensis</text>
<text x="597.87" y="121.10" font-family="Liberation Serif, serif" font-size="9.0" font-style="italic" text-anchor="start" fill="#383838" transform="rotate(-90 597.87 121.10)" textLength="74.8" lengthAdjust="spacingAndGlyphs">Coccolithus  formosus</text>
<text x="611.38" y="121.10" font-family="Liberation Serif, serif" font-size="9.0" font-style="italic" text-anchor="start" fill="#383838" transform="rotate(-90 611.38 121.10)" textLength="94.8" lengthAdjust="spacingAndGlyphs">Cyclicargolithus floridanus</text>
<text x="624.88" y="121.10" font-family="Liberation Serif, serif" font-size="9.0" font-style="italic" text-anchor="start" fill="#383838" transform="rotate(-90 624.88 121.10)" textLength="88.5" lengthAdjust="spacingAndGlyphs">Coccolithus miopelagicus</text>
<text x="638.39" y="121.10" font-family="Liberation Serif, serif" font-size="9.0" font-style="italic" text-anchor="start" fill="#383838" transform="rotate(-90 638.39 121.10)" textLength="96.0" lengthAdjust="spacingAndGlyphs">Braarudosphaera bigelowii</text>
<text x="651.90" y="121.10" font-family="Liberation Serif, serif" font-size="9.0" font-style="italic" text-anchor="start" fill="#383838" transform="rotate(-90 651.90 121.10)" textLength="76.8" lengthAdjust="spacingAndGlyphs">Sphenolithus distentus</text>
<text x="665.41" y="121.10" font-family="Liberation Serif, serif" font-size="9.0" font-style="italic" text-anchor="start" fill="#383838" transform="rotate(-90 665.41 121.10)" textLength="77.3" lengthAdjust="spacingAndGlyphs">Pontosphaera enormis</text>
<text x="678.92" y="121.10" font-family="Liberation Serif, serif" font-size="9.0" font-style="italic" text-anchor="start" fill="#383838" transform="rotate(-90 678.92 121.10)" textLength="79.8" lengthAdjust="spacingAndGlyphs">Sphenolithus dissimilis</text>
<line x1="2.00" y1="1.50" x2="682.50" y2="1.50" stroke="#96918e" stroke-width="1.4"/>
<line x1="2.00" y1="1.50" x2="2.00" y2="468.00" stroke="#777" stroke-width="1.2"/>
<line x1="682.50" y1="1.50" x2="682.50" y2="468.00" stroke="#7a7572" stroke-width="1.3"/>
<line x1="2.00" y1="468.00" x2="682.50" y2="468.00" stroke="#555" stroke-width="1.2"/>
<line x1="2.00" y1="122.40" x2="303.40" y2="122.40" stroke="#767070" stroke-width="1.0"/>
<line x1="303.40" y1="122.70" x2="682.50" y2="122.70" stroke="#b5b5b5" stroke-width="1.8"/>
<line x1="27.00" y1="1.50" x2="27.00" y2="468.00" stroke="#767070" stroke-width="1.0"/>
<line x1="112.50" y1="1.50" x2="112.50" y2="468.00" stroke="#767070" stroke-width="1.0"/>
<line x1="129.50" y1="1.50" x2="129.50" y2="468.00" stroke="#767070" stroke-width="1.0"/>
<line x1="145.60" y1="1.50" x2="145.60" y2="468.00" stroke="#767070" stroke-width="1.0"/>
<line x1="160.40" y1="1.50" x2="160.40" y2="468.00" stroke="#767070" stroke-width="1.0"/>
<line x1="181.40" y1="1.50" x2="181.40" y2="468.00" stroke="#767070" stroke-width="1.0"/>
<line x1="242.00" y1="1.50" x2="242.00" y2="468.00" stroke="#767070" stroke-width="1.0"/>
<line x1="265.60" y1="1.50" x2="265.60" y2="468.00" stroke="#767070" stroke-width="1.0"/>
<line x1="277.60" y1="1.50" x2="277.60" y2="468.00" stroke="#767070" stroke-width="1.0"/>
<line x1="303.40" y1="1.50" x2="303.40" y2="468.00" stroke="#767070" stroke-width="1.0"/>
<line x1="74.50" y1="1.50" x2="74.50" y2="122.40" stroke="#767070" stroke-width="1.0"/>
<text x="17.88" y="89.00" font-family="Liberation Sans, sans-serif" font-size="8" font-weight="bold" text-anchor="start" fill="#1a1a1a" transform="rotate(-90 17.88 89.00)">Formation</text>
<text x="54.48" y="87.00" font-family="Liberation Sans, sans-serif" font-size="8" font-weight="bold" text-anchor="start" fill="#1a1a1a" transform="rotate(-90 54.48 87.00)">Lithology</text>
<text x="85.88" y="94.00" font-family="Liberation Sans, sans-serif" font-size="8" font-weight="bold" text-anchor="start" fill="#1a1a1a" transform="rotate(-90 85.88 94.00)">Thickness (m)</text>
<text x="96.90" y="73.50" font-family="Liberation Sans, sans-serif" font-size="8" font-weight="bold" text-anchor="middle" fill="#1a1a1a" transform="rotate(-90 96.90 73.50)">and</text>
<text x="107.28" y="87.00" font-family="Liberation Sans, sans-serif" font-size="8" font-weight="bold" text-anchor="start" fill="#1a1a1a" transform="rotate(-90 107.28 87.00)">Samples</text>
<text x="123.48" y="88.00" font-family="Liberation Sans, sans-serif" font-size="8" font-weight="bold" text-anchor="start" fill="#1a1a1a" transform="rotate(-90 123.48 88.00)">System</text>
<text x="140.28" y="87.60" font-family="Liberation Sans, sans-serif" font-size="8" font-weight="bold" text-anchor="start" fill="#1a1a1a" transform="rotate(-90 140.28 87.60)">Serise</text>
<text x="155.88" y="87.60" font-family="Liberation Sans, sans-serif" font-size="8" font-weight="bold" text-anchor="start" fill="#1a1a1a" transform="rotate(-90 155.88 87.60)">Sub-Series</text>
<text x="174.28" y="87.60" font-family="Liberation Sans, sans-serif" font-size="8" font-weight="bold" text-anchor="start" fill="#1a1a1a" transform="rotate(-90 174.28 87.60)">Stage</text>
<text x="212.00" y="75.00" font-family="Liberation Sans, sans-serif" font-size="8" font-weight="bold" text-anchor="middle" fill="#1a1a1a" transform="matrix(1,0,0,1.080,0,-6.000)">This study</text>
<text x="256.32" y="121.00" font-family="Liberation Sans, sans-serif" font-size="7" font-weight="bold" text-anchor="start" fill="#1a1a1a" transform="rotate(-90 256.32 121.00)">Zonation of Okada and Bukry (1980)</text>
<text x="274.32" y="121.00" font-family="Liberation Sans, sans-serif" font-size="7" font-weight="bold" text-anchor="start" fill="#1a1a1a" transform="rotate(-90 274.32 121.00)">Zonation of Martini (1971)</text>
<text x="293.12" y="120.00" font-family="Liberation Sans, sans-serif" font-size="7" font-weight="bold" text-anchor="start" fill="#1a1a1a" transform="rotate(-90 293.12 120.00)">Zonation of Agnini et al. (2014)</text>
<text x="17.65" y="171.00" font-family="Liberation Sans, sans-serif" font-size="9.3" font-weight="bold" text-anchor="start" fill="#1a1a1a" transform="rotate(-90 17.65 171.00)">Asmari</text>
<text x="17.09" y="349.00" font-family="Liberation Sans, sans-serif" font-size="9.7" font-weight="bold" text-anchor="start" fill="#1a1a1a" transform="rotate(-90 17.09 349.00)">Pabdeh</text>
<text x="124.12" y="297.00" font-family="Liberation Sans, sans-serif" font-size="8.1" font-weight="bold" text-anchor="start" fill="#1a1a1a" transform="rotate(-90 124.12 297.00)">Paleogene</text>
<text x="140.92" y="262.00" font-family="Liberation Sans, sans-serif" font-size="8.1" font-weight="bold" text-anchor="start" fill="#1a1a1a" transform="rotate(-90 140.92 262.00)">Oligocene</text>
<text x="140.78" y="421.60" font-family="Liberation Sans, sans-serif" font-size="8.0" font-weight="bold" text-anchor="start" fill="#1a1a1a" transform="rotate(-90 140.78 421.60)">Eocene</text>
<text x="155.85" y="165.50" font-family="Liberation Sans, sans-serif" font-size="8.2" font-weight="bold" text-anchor="start" fill="#1a1a1a" transform="rotate(-90 155.85 165.50)">Upper</text>
<text x="156.92" y="284.30" font-family="Liberation Sans, sans-serif" font-size="8.1" font-weight="bold" text-anchor="start" fill="#1a1a1a" transform="rotate(-90 156.92 284.30)">Lower</text>
<text x="155.35" y="420.30" font-family="Liberation Sans, sans-serif" font-size="8.2" font-weight="bold" text-anchor="start" fill="#1a1a1a" transform="rotate(-90 155.35 420.30)">Upper</text>
<text x="173.82" y="170.30" font-family="Liberation Sans, sans-serif" font-size="8.1" font-weight="bold" text-anchor="start" fill="#1a1a1a" transform="rotate(-90 173.82 170.30)">Chattian</text>
<text x="174.20" y="287.00" font-family="Liberation Sans, sans-serif" font-size="8.05" font-weight="bold" text-anchor="start" fill="#1a1a1a" transform="rotate(-90 174.20 287.00)">Rupelian</text>
<text x="173.92" y="429.00" font-family="Liberation Sans, sans-serif" font-size="8.1" font-weight="bold" text-anchor="start" fill="#1a1a1a" transform="rotate(-90 173.92 429.00)">Priabonian</text>
<line x1="2.00" y1="181.50" x2="27.00" y2="181.50" stroke="#555" stroke-width="0.9" stroke-dasharray="4,1.5,1,1.5"/>
<line x1="145.60" y1="181.50" x2="242.00" y2="181.50" stroke="#555" stroke-width="0.9" stroke-dasharray="4,1.5,1,1.5"/>
<line x1="129.50" y1="348.60" x2="181.40" y2="348.60" stroke="#767070" stroke-width="1.0"/>
<line x1="181.40" y1="277.20" x2="303.40" y2="277.20" stroke="#767070" stroke-width="1.0"/>
<line x1="181.40" y1="324.00" x2="303.40" y2="324.00" stroke="#767070" stroke-width="1.0"/>
<line x1="181.40" y1="372.40" x2="303.40" y2="372.40" stroke="#767070" stroke-width="1.0"/>
<line x1="181.40" y1="420.00" x2="242.00" y2="420.00" stroke="#767070" stroke-width="1.0"/>
<line x1="242.00" y1="146.20" x2="277.60" y2="146.20" stroke="#767070" stroke-width="1.0"/>
<line x1="242.00" y1="241.40" x2="265.60" y2="241.40" stroke="#767070" stroke-width="1.0"/>
<line x1="277.60" y1="241.40" x2="303.40" y2="241.40" stroke="#767070" stroke-width="1.0"/>
<line x1="277.60" y1="396.60" x2="303.40" y2="396.60" stroke="#767070" stroke-width="1.0"/>
<line x1="277.60" y1="444.00" x2="303.40" y2="444.00" stroke="#767070" stroke-width="1.0"/>
<line x1="242.00" y1="348.60" x2="265.60" y2="348.60" stroke="#444" stroke-width="0.9" stroke-dasharray="3,1.8"/>
<line x1="277.60" y1="348.60" x2="287.00" y2="348.60" stroke="#444" stroke-width="0.9" stroke-dasharray="3,1.8"/>
<line x1="294.00" y1="348.60" x2="303.40" y2="348.60" stroke="#444" stroke-width="0.9" stroke-dasharray="3,1.8"/>
<text x="290.60" y="351.20" font-family="Liberation Serif, serif" font-size="7.0" text-anchor="middle" fill="#444" transform="matrix(1,0,0,1.080,0,-28.096)">?</text>
<text x="189.00" y="149.20" font-family="Liberation Sans, sans-serif" font-size="8" font-style="italic" text-anchor="start" fill="#333" transform="matrix(1,0,0,1.080,0,-11.936)">Sphenolithus</text>
<text x="189.00" y="158.40" font-family="Liberation Sans, sans-serif" font-size="8" font-style="italic" text-anchor="start" fill="#333" transform="matrix(1,0,0,1.080,0,-12.672)">ciperoensis</text>
<text x="187.60" y="228.20" font-family="Liberation Sans, sans-serif" font-size="8" font-style="italic" text-anchor="start" fill="#333" transform="matrix(1,0,0,1.080,0,-18.256)">Sphenolithus</text>
<text x="187.60" y="239.20" font-family="Liberation Sans, sans-serif" font-size="8" font-style="italic" text-anchor="start" fill="#333" transform="matrix(1,0,0,1.080,0,-19.136)">praedistentus</text>
<text x="187.00" y="299.80" font-family="Liberation Sans, sans-serif" font-size="8" font-style="italic" text-anchor="start" fill="#333" transform="matrix(1,0,0,1.080,0,-23.984)">Helicosphaera</text>
<text x="187.00" y="308.80" font-family="Liberation Sans, sans-serif" font-size="8" font-style="italic" text-anchor="start" fill="#333" transform="matrix(1,0,0,1.080,0,-24.704)">reticulata</text>
<text x="188.40" y="344.40" font-family="Liberation Sans, sans-serif" font-size="8" font-style="italic" text-anchor="start" fill="#333" transform="matrix(1,0,0,1.080,0,-27.552)">Ericsonia</text>
<text x="188.40" y="353.80" font-family="Liberation Sans, sans-serif" font-size="8" font-style="italic" text-anchor="start" fill="#333" transform="matrix(1,0,0,1.080,0,-28.304)">subdisticha</text>
<text x="212.00" y="393.20" font-family="Liberation Sans, sans-serif" font-size="8" font-style="italic" text-anchor="middle" fill="#333" transform="matrix(1,0,0,1.080,0,-31.456)">Sphenolithus</text>
<text x="212.00" y="405.40" font-family="Liberation Sans, sans-serif" font-size="8" font-style="italic" text-anchor="middle" fill="#333" transform="matrix(1,0,0,1.080,0,-32.432)">pseudoradians</text>
<text x="212.00" y="440.80" font-family="Liberation Sans, sans-serif" font-size="8" font-style="italic" text-anchor="middle" fill="#333" transform="matrix(1,0,0,1.080,0,-35.264)">Isthmolithus</text>
<text x="212.00" y="453.20" font-family="Liberation Sans, sans-serif" font-size="8" font-style="italic" text-anchor="middle" fill="#333" transform="matrix(1,0,0,1.080,0,-36.256)">recurvus</text>
<text x="290.60" y="136.00" font-family="Liberation Sans, sans-serif" font-size="7" font-weight="bold" text-anchor="middle" fill="#1a1a1a" transform="matrix(1,0,0,1.080,0,-10.880)">CNO5</text>
<text x="254.00" y="238.50" font-family="Liberation Sans, sans-serif" font-size="7" font-weight="bold" text-anchor="middle" fill="#1a1a1a" transform="matrix(1,0,0,1.080,0,-19.080)">CP18</text>
<text x="290.60" y="238.50" font-family="Liberation Sans, sans-serif" font-size="7" font-weight="bold" text-anchor="middle" fill="#1a1a1a" transform="matrix(1,0,0,1.080,0,-19.080)">CNO4</text>
<text x="254.00" y="264.50" font-family="Liberation Sans, sans-serif" font-size="7" font-weight="bold" text-anchor="middle" fill="#1a1a1a" transform="matrix(1,0,0,1.080,0,-21.160)">CP17</text>
<text x="290.60" y="264.50" font-family="Liberation Sans, sans-serif" font-size="7" font-weight="bold" text-anchor="middle" fill="#1a1a1a" transform="matrix(1,0,0,1.080,0,-21.160)">CNO3</text>
<text x="254.00" y="304.10" font-family="Liberation Sans, sans-serif" font-size="7" font-weight="bold" text-anchor="middle" fill="#1a1a1a" transform="matrix(1,0,0,1.080,0,-24.328)">CP16c</text>
<text x="290.60" y="304.50" font-family="Liberation Sans, sans-serif" font-size="7" font-weight="bold" text-anchor="middle" fill="#1a1a1a" transform="matrix(1,0,0,1.080,0,-24.360)">CNO2</text>
<text x="254.00" y="340.50" font-family="Liberation Sans, sans-serif" font-size="7" font-weight="bold" text-anchor="middle" fill="#1a1a1a" transform="matrix(1,0,0,1.080,0,-27.240)">CP16b</text>
<text x="290.60" y="339.10" font-family="Liberation Sans, sans-serif" font-size="7" font-weight="bold" text-anchor="middle" fill="#1a1a1a" transform="matrix(1,0,0,1.080,0,-27.128)">CNO1</text>
<text x="254.00" y="364.10" font-family="Liberation Sans, sans-serif" font-size="7" font-weight="bold" text-anchor="middle" fill="#1a1a1a" transform="matrix(1,0,0,1.080,0,-29.128)">CP16a</text>
<text x="290.60" y="364.50" font-family="Liberation Sans, sans-serif" font-size="7" font-weight="bold" text-anchor="middle" fill="#1a1a1a" transform="matrix(1,0,0,1.080,0,-29.160)">CNE21</text>
<text x="290.60" y="387.10" font-family="Liberation Sans, sans-serif" font-size="7" font-weight="bold" text-anchor="middle" fill="#1a1a1a" transform="matrix(1,0,0,1.080,0,-30.968)">CNE20</text>
<text x="290.60" y="424.10" font-family="Liberation Sans, sans-serif" font-size="7" font-weight="bold" text-anchor="middle" fill="#1a1a1a" transform="matrix(1,0,0,1.080,0,-33.928)">CNE19</text>
<text x="290.60" y="458.10" font-family="Liberation Sans, sans-serif" font-size="7" font-weight="bold" text-anchor="middle" fill="#1a1a1a" transform="matrix(1,0,0,1.080,0,-36.648)">CNE18</text>
<text x="257.00" y="135.20" font-family="Liberation Sans, sans-serif" font-size="7" font-weight="bold" text-anchor="middle" fill="#1a1a1a" transform="rotate(-90 257.00 135.20)">CP19b</text>
<text x="274.10" y="133.20" font-family="Liberation Sans, sans-serif" font-size="7" font-weight="bold" text-anchor="middle" fill="#1a1a1a" transform="rotate(-90 274.10 133.20)">NP25</text>
<text x="274.50" y="240.00" font-family="Liberation Sans, sans-serif" font-size="7" font-weight="bold" text-anchor="middle" fill="#1a1a1a" transform="rotate(-90 274.50 240.00)">NP23</text>
<text x="274.50" y="302.00" font-family="Liberation Sans, sans-serif" font-size="7" font-weight="bold" text-anchor="middle" fill="#1a1a1a" transform="rotate(-90 274.50 302.00)">NP22</text>
<text x="274.50" y="352.00" font-family="Liberation Sans, sans-serif" font-size="7" font-weight="bold" text-anchor="middle" fill="#1a1a1a" transform="rotate(-90 274.50 352.00)">NP21</text>
<text x="257.50" y="422.00" font-family="Liberation Sans, sans-serif" font-size="7" font-weight="bold" text-anchor="middle" fill="#1a1a1a" transform="rotate(-90 257.50 422.00)">CP15b</text>
<text x="274.50" y="420.00" font-family="Liberation Sans, sans-serif" font-size="7" font-weight="bold" text-anchor="middle" fill="#1a1a1a" transform="rotate(-90 274.50 420.00)">NP19/ NP20</text>
<text x="291.80" y="157.70" font-family="Liberation Serif, serif" font-size="7.6" text-anchor="middle" fill="#505050" transform="matrix(1,0,0,1.080,0,-12.616)">?</text>
<text x="253.30" y="189.60" font-family="Liberation Serif, serif" font-size="7.6" text-anchor="middle" fill="#505050" transform="matrix(1,0,0,1.080,0,-15.168)">?</text>
<text x="273.60" y="189.40" font-family="Liberation Serif, serif" font-size="7.6" text-anchor="middle" fill="#505050" transform="matrix(1,0,0,1.080,0,-15.152)">?</text>
<text x="292.40" y="189.40" font-family="Liberation Serif, serif" font-size="7.6" text-anchor="middle" fill="#505050" transform="matrix(1,0,0,1.080,0,-15.152)">?</text>
<rect x="27.70" y="122.90" width="42.90" height="35.50" fill="url(#shd)"/>
<path d="M42.74,161.45 L44.50,164.15 L46.26,161.45" fill="none" stroke="#333" stroke-width="1.05"/>
<path d="M61.45,161.45 L63.20,164.15 L64.95,161.45" fill="none" stroke="#333" stroke-width="1.05"/>
<path d="M32.54,167.05 L34.30,169.75 L36.05,167.05" fill="none" stroke="#333" stroke-width="1.05"/>
<path d="M51.54,167.05 L53.30,169.75 L55.05,167.05" fill="none" stroke="#333" stroke-width="1.05"/>
<path d="M42.14,172.25 L43.90,174.95 L45.66,172.25" fill="none" stroke="#333" stroke-width="1.05"/>
<path d="M61.14,172.25 L62.90,174.95 L64.66,172.25" fill="none" stroke="#333" stroke-width="1.05"/>
<path d="M32.54,177.95 L34.30,180.65 L36.05,177.95" fill="none" stroke="#333" stroke-width="1.05"/>
<path d="M51.54,177.95 L53.30,180.65 L55.05,177.95" fill="none" stroke="#333" stroke-width="1.05"/>
<rect x="28.00" y="183.00" width="42.80" height="40.60" fill="url(#dol)"/>
<line x1="28.00" y1="182.30" x2="68.00" y2="182.30" stroke="#a33a48" stroke-width="1.1"/>
<rect x="28.00" y="223.40" width="42.00" height="2.40" fill="#f4f2f1"/>
<rect x="27.80" y="225.60" width="41.60" height="242.00" fill="url(#shd)"/>
<rect x="28.20" y="243.60" width="42.80" height="2.40" fill="#f8f6f5" stroke="#6d6563" stroke-width="0.5"/>
<line x1="37.50" y1="243.60" x2="37.50" y2="246.00" stroke="#6d6563" stroke-width="0.6"/>
<line x1="54.50" y1="243.60" x2="54.50" y2="246.00" stroke="#6d6563" stroke-width="0.6"/>
<line x1="67.50" y1="243.60" x2="67.50" y2="246.00" stroke="#6d6563" stroke-width="0.6"/>
<rect x="28.20" y="266.80" width="42.80" height="2.40" fill="#f8f6f5" stroke="#6d6563" stroke-width="0.5"/>
<line x1="37.50" y1="266.80" x2="37.50" y2="269.20" stroke="#6d6563" stroke-width="0.6"/>
<line x1="54.50" y1="266.80" x2="54.50" y2="269.20" stroke="#6d6563" stroke-width="0.6"/>
<line x1="67.50" y1="266.80" x2="67.50" y2="269.20" stroke="#6d6563" stroke-width="0.6"/>
<rect x="28.20" y="327.10" width="42.80" height="2.40" fill="#f8f6f5" stroke="#6d6563" stroke-width="0.5"/>
<line x1="37.50" y1="327.10" x2="37.50" y2="329.50" stroke="#6d6563" stroke-width="0.6"/>
<line x1="54.50" y1="327.10" x2="54.50" y2="329.50" stroke="#6d6563" stroke-width="0.6"/>
<line x1="67.50" y1="327.10" x2="67.50" y2="329.50" stroke="#6d6563" stroke-width="0.6"/>
<rect x="28.20" y="386.70" width="42.80" height="2.40" fill="#f8f6f5" stroke="#6d6563" stroke-width="0.5"/>
<line x1="37.50" y1="386.70" x2="37.50" y2="389.10" stroke="#6d6563" stroke-width="0.6"/>
<line x1="54.50" y1="386.70" x2="54.50" y2="389.10" stroke="#6d6563" stroke-width="0.6"/>
<line x1="67.50" y1="386.70" x2="67.50" y2="389.10" stroke="#6d6563" stroke-width="0.6"/>
<rect x="56.8" y="200.2" width="6.9" height="9.2" fill="none" stroke="#111" stroke-width="1.1"/>
<line x1="63.70" y1="200.20" x2="70.90" y2="183.20" stroke="#111" stroke-width="1.0"/>
<line x1="63.70" y1="209.40" x2="70.60" y2="225.00" stroke="#111" stroke-width="1.0"/>
<rect x="70.80" y="182.80" width="20.20" height="42.20" fill="url(#tufa)"/>
<path d="M71.1,189.1 C73,191.5 75,193 77,192.8 C79,192.5 81.5,185.2 84.2,185.2 C86.8,185.2 88.8,190 90.4,195.3 C88.8,192.5 87.8,191.1 86.4,191.1 C83.5,191.1 80,197.6 77,197.6 C74.5,197.6 73,192 71.1,189.1 Z" fill="none" stroke="#141414" stroke-width="1.0"/>
<ellipse cx="78.3" cy="194.0" rx="0.45" ry="0.85" fill="#1a1a1a"/>
<ellipse cx="80.1" cy="192.3" rx="0.45" ry="0.85" fill="#1a1a1a"/>
<ellipse cx="83.1" cy="189.3" rx="0.45" ry="0.85" fill="#1a1a1a"/>
<path d="M70.9,210.0 C73,210.3 75,211.4 78,211.2 C81,211.0 83,209.4 86,209.4 C88,209.4 89.5,210.6 91,210.9" fill="none" stroke="#1a1a1a" stroke-width="1.0"/>
<path d="M70.9,214.1 C73,214.4 75,215.5 78,215.3 C81,215.1 83,213.5 86,213.5 C88,213.5 89.5,214.7 91,215.0" fill="none" stroke="#1a1a1a" stroke-width="1.0"/>
<path d="M70.9,218.2 C73,218.5 75,219.6 78,219.4 C81,219.2 83,217.6 86,217.6 C88,217.6 89.5,218.8 91,219.1" fill="none" stroke="#1a1a1a" stroke-width="1.0"/>
<path d="M70.9,222.3 C73,222.6 75,223.7 78,223.5 C81,223.3 83,221.7 86,221.7 C88,221.7 89.5,222.9 91,223.2" fill="none" stroke="#1a1a1a" stroke-width="1.0"/>
<path d="M69.1,179.3 C71,179.3 72,181.2 73.3,181.2 C74.8,181.2 75.6,179.2 77.3,179.2 C79,179.2 79.6,181.3 81.3,181.3 C83,181.3 84,179.3 85.4,179.3 C87,179.3 87.8,181.2 89.3,181.2 C90.8,181.2 91.6,180 92.6,179.8" fill="none" stroke="#1a1a1a" stroke-width="1.0"/>
<line x1="76.10" y1="123.50" x2="76.10" y2="178.50" stroke="#333" stroke-width="1.1" stroke-dasharray="1,3.2"/>
<line x1="76.10" y1="227.00" x2="76.10" y2="454.00" stroke="#333" stroke-width="1.1" stroke-dasharray="1,3.2"/>
<rect x="91.90" y="183.55" width="0.90" height="0.90" fill="#555"/>
<rect x="91.90" y="190.05" width="0.90" height="0.90" fill="#555"/>
<rect x="91.90" y="196.05" width="0.90" height="0.90" fill="#555"/>
<rect x="91.90" y="202.55" width="0.90" height="0.90" fill="#555"/>
<rect x="91.90" y="209.05" width="0.90" height="0.90" fill="#555"/>
<rect x="91.90" y="217.55" width="0.90" height="0.90" fill="#555"/>
<path d="M76.3,453.5 L74.3,456.5 L75.5,456.5 L75.5,460.5 L77.1,460.5 L77.1,456.5 L78.3,456.5 Z" fill="#fff" stroke="#444" stroke-width="0.6"/>
<rect x="69.60" y="467.00" width="27.60" height="2.00" fill="#fff"/>
<text x="83.50" y="467.40" font-family="Liberation Sans, sans-serif" font-size="6.1" font-weight="bold" text-anchor="middle" fill="#333" transform="matrix(1,0,0,1.080,0,-37.392)">Samples</text>
<text x="77.10" y="128.80" font-family="Liberation Sans, sans-serif" font-size="6.9" text-anchor="start" fill="#333" transform="matrix(1,0,0,1.080,0,-10.304)">90</text>
<text x="110.60" y="128.80" font-family="Liberation Sans, sans-serif" font-size="6.9" text-anchor="end" fill="#333" transform="matrix(1,0,0,1.080,0,-10.304)">129</text>
<text x="77.20" y="146.30" font-family="Liberation Sans, sans-serif" font-size="6.9" text-anchor="start" fill="#333" transform="matrix(1,0,0,1.080,0,-11.704)">87</text>
<text x="110.60" y="146.30" font-family="Liberation Sans, sans-serif" font-size="6.9" text-anchor="end" fill="#333" transform="matrix(1,0,0,1.080,0,-11.704)">123.5</text>
<text x="77.20" y="162.90" font-family="Liberation Sans, sans-serif" font-size="6.9" text-anchor="start" fill="#333" transform="matrix(1,0,0,1.080,0,-13.032)">84</text>
<text x="110.60" y="162.90" font-family="Liberation Sans, sans-serif" font-size="6.9" text-anchor="end" fill="#333" transform="matrix(1,0,0,1.080,0,-13.032)">118</text>
<text x="92.70" y="186.40" font-family="Liberation Sans, sans-serif" font-size="6.9" text-anchor="start" fill="#333" transform="matrix(1,0,0,1.080,0,-14.912)">78</text>
<text x="94.60" y="220.30" font-family="Liberation Sans, sans-serif" font-size="6.9" text-anchor="start" fill="#333" transform="matrix(1,0,0,1.080,0,-17.624)">74</text>
<text x="110.60" y="230.40" font-family="Liberation Sans, sans-serif" font-size="6.9" text-anchor="end" fill="#333" transform="matrix(1,0,0,1.080,0,-18.432)">111.35</text>
<text x="77.50" y="242.40" font-family="Liberation Sans, sans-serif" font-size="6.9" text-anchor="start" fill="#333" transform="matrix(1,0,0,1.080,0,-19.392)">67</text>
<text x="110.60" y="242.40" font-family="Liberation Sans, sans-serif" font-size="6.9" text-anchor="end" fill="#333" transform="matrix(1,0,0,1.080,0,-19.392)">105.85</text>
<text x="78.40" y="279.90" font-family="Liberation Sans, sans-serif" font-size="6.9" text-anchor="start" fill="#333" transform="matrix(1,0,0,1.080,0,-22.392)">58</text>
<text x="110.60" y="279.90" font-family="Liberation Sans, sans-serif" font-size="6.9" text-anchor="end" fill="#333" transform="matrix(1,0,0,1.080,0,-22.392)">89.12</text>
<text x="78.40" y="329.10" font-family="Liberation Sans, sans-serif" font-size="6.9" text-anchor="start" fill="#333" transform="matrix(1,0,0,1.080,0,-26.328)">47</text>
<text x="110.60" y="329.10" font-family="Liberation Sans, sans-serif" font-size="6.9" text-anchor="end" fill="#333" transform="matrix(1,0,0,1.080,0,-26.328)">66.84</text>
<text x="78.40" y="374.40" font-family="Liberation Sans, sans-serif" font-size="6.9" text-anchor="start" fill="#333" transform="matrix(1,0,0,1.080,0,-29.952)">29</text>
<text x="110.60" y="374.40" font-family="Liberation Sans, sans-serif" font-size="6.9" text-anchor="end" fill="#333" transform="matrix(1,0,0,1.080,0,-29.952)">44.56</text>
<text x="78.40" y="397.40" font-family="Liberation Sans, sans-serif" font-size="6.9" text-anchor="start" fill="#333" transform="matrix(1,0,0,1.080,0,-31.792)">21</text>
<text x="110.60" y="397.40" font-family="Liberation Sans, sans-serif" font-size="6.9" text-anchor="end" fill="#333" transform="matrix(1,0,0,1.080,0,-31.792)">33.42</text>
<text x="78.40" y="423.40" font-family="Liberation Sans, sans-serif" font-size="6.9" text-anchor="start" fill="#333" transform="matrix(1,0,0,1.080,0,-33.872)">14</text>
<text x="110.60" y="423.40" font-family="Liberation Sans, sans-serif" font-size="6.9" text-anchor="end" fill="#333" transform="matrix(1,0,0,1.080,0,-33.872)">22.29</text>
<text x="78.80" y="445.40" font-family="Liberation Sans, sans-serif" font-size="6.9" text-anchor="start" fill="#333" transform="matrix(1,0,0,1.080,0,-35.632)">8</text>
<text x="110.60" y="445.40" font-family="Liberation Sans, sans-serif" font-size="6.9" text-anchor="end" fill="#333" transform="matrix(1,0,0,1.080,0,-35.632)">11.15</text>
<text x="14.60" y="454.40" font-family="Liberation Sans, sans-serif" font-size="6.1" font-weight="bold" text-anchor="middle" fill="#333" transform="matrix(1,0,0,1.080,0,-36.352)">Scale</text>
<text x="11.70" y="465.20" font-family="Liberation Sans, sans-serif" font-size="6.2" text-anchor="middle" fill="#333" transform="matrix(1,0,0,1.080,0,-37.216)">5.5 m</text>
<line x1="22.60" y1="454.30" x2="22.60" y2="467.50" stroke="#222" stroke-width="1.1"/>
<text x="11.00" y="488.20" font-family="Liberation Sans, sans-serif" font-size="9.8" font-weight="bold" text-anchor="start" fill="#222" transform="matrix(1,0,0,1.080,0,-39.056)">Legend:</text>
<rect x="59.2" y="476.2" width="32.2" height="19.8" fill="url(#shl)" stroke="#a8a0a0" stroke-width="0.8"/>
<text x="95.60" y="488.00" font-family="Liberation Sans, sans-serif" font-size="8.1" font-weight="bold" text-anchor="start" fill="#222" transform="matrix(1,0,0,1.080,0,-39.040)">Shale</text>
<rect x="120.6" y="475.2" width="33.6" height="21" fill="url(#lim)" stroke="#a8a0a0" stroke-width="0.8"/>
<text x="158.00" y="487.00" font-family="Liberation Sans, sans-serif" font-size="8.07" font-weight="bold" text-anchor="start" fill="#222" transform="matrix(1,0,0,1.080,0,-38.960)">Thin-bedded</text>
<text x="158.00" y="499.00" font-family="Liberation Sans, sans-serif" font-size="8.07" font-weight="bold" text-anchor="start" fill="#222" transform="matrix(1,0,0,1.080,0,-39.920)">limestone</text>
<rect x="209.6" y="475.2" width="35.4" height="21" fill="url(#dolL)" stroke="#a8a0a0" stroke-width="0.8"/>
<text x="248.40" y="488.00" font-family="Liberation Sans, sans-serif" font-size="8.1" font-weight="bold" text-anchor="start" fill="#222" transform="matrix(1,0,0,1.080,0,-39.040)">Dolostone</text>
<rect x="289.8" y="475.4" width="29.8" height="20.9" fill="#fff" stroke="#b8b2b0" stroke-width="0.9"/>
<linearGradient id="tufaL" x1="0" y1="0" x2="0" y2="1"><stop offset="0" stop-color="#f6b998"/><stop offset="0.5" stop-color="#f4b08c"/><stop offset="0.62" stop-color="#ee9c70"/><stop offset="1" stop-color="#ef9f76"/></linearGradient>
<rect x="291.60" y="477.00" width="26.40" height="18.60" fill="url(#tufaL)"/>
<path d="M292.7,480.3 C294.5,481.5 295.8,482.8 297.1,482.8 C299.5,482.8 302,479.2 304.3,479.2 C306.5,479 308,478.4 309.3,478.4 C312,478.4 314.5,481 316.5,482.5 C314.5,481.8 313,481.2 311.5,481.2 C309.5,481.2 308.5,480.9 307,480.9 C305,480.9 304,482.5 302.6,482.5 C301.5,482.5 300.2,483.6 298.8,483.6 C297,483.6 295.5,482.3 292.7,480.3 Z" fill="none" stroke="#1e1e1e" stroke-width="0.9"/>
<ellipse cx="300.8" cy="481.4" rx="0.35" ry="0.7" fill="#1e1e1e"/>
<ellipse cx="303.2" cy="480.6" rx="0.35" ry="0.7" fill="#1e1e1e"/>
<ellipse cx="306.5" cy="479.8" rx="0.35" ry="0.7" fill="#1e1e1e"/>
<path d="M291.8,488.6 C296,487.8 300,489.40000000000003 305,488.8 S313,487.8 317.8,488.6" fill="none" stroke="#6a4a3a" stroke-width="0.8"/>
<path d="M291.8,490.9 C296,490.09999999999997 300,491.7 305,491.09999999999997 S313,490.09999999999997 317.8,490.9" fill="none" stroke="#6a4a3a" stroke-width="0.8"/>
<path d="M291.8,493.0 C296,492.2 300,493.8 305,493.2 S313,492.2 317.8,493.0" fill="none" stroke="#6a4a3a" stroke-width="0.8"/>
<path d="M291.8,495.0 C296,494.2 300,495.8 305,495.2 S313,494.2 317.8,495.0" fill="none" stroke="#6a4a3a" stroke-width="0.8"/>
<text x="327.60" y="482.60" font-family="Liberation Sans, sans-serif" font-size="8.14" font-weight="bold" text-anchor="start" fill="#222" transform="matrix(1,0,0,1.080,0,-38.608)">Tufa microbial facies</text>
<text x="329.60" y="494.00" font-family="Liberation Sans, sans-serif" font-size="8.14" font-weight="bold" text-anchor="start" fill="#222" transform="matrix(1,0,0,1.080,0,-39.520)">and Stromatolite</text>
<line x1="419.40" y1="487.60" x2="433.40" y2="487.60" stroke="#a33a48" stroke-width="1.2"/>
<text x="437.60" y="491.00" font-family="Liberation Sans, sans-serif" font-size="7.95" font-weight="bold" text-anchor="start" fill="#222" transform="matrix(1,0,0,1.080,0,-39.280)">Paleosol horizon</text>
<rect x="509.8" y="475.8" width="36.8" height="18.2" fill="#fff" stroke="#b0a8a8" stroke-width="0.8"/>
<path d="M511.91,480.30 L513.60,482.90 L515.29,480.30" fill="none" stroke="#333" stroke-width="1.3"/>
<path d="M521.11,486.10 L522.80,488.70 L524.49,486.10" fill="none" stroke="#333" stroke-width="1.3"/>
<path d="M530.51,480.30 L532.20,482.90 L533.89,480.30" fill="none" stroke="#333" stroke-width="1.3"/>
<path d="M539.51,486.10 L541.20,488.70 L542.89,486.10" fill="none" stroke="#333" stroke-width="1.3"/>
<text x="549.00" y="487.00" font-family="Liberation Sans, sans-serif" font-size="8.1" font-weight="bold" text-anchor="start" fill="#222" transform="matrix(1,0,0,1.080,0,-38.960)">Anhydrite</text>
<path d="M596.1,486.5 Q597,487.6 598.2,487.4 C600.5,487 602,483.6 604,483.6 C606.5,483.6 608,487.4 609.6,487.4 C611.2,487.4 612,483.6 613.4,483.6 C615,483.6 615.8,487.4 617.2,487.4 C619,487.4 621,484.5 622.7,483.6" fill="none" stroke="#352f2c" stroke-width="1.3"/>
<text x="626.40" y="486.60" font-family="Liberation Sans, sans-serif" font-size="8.1" font-weight="bold" text-anchor="start" fill="#222" transform="matrix(1,0,0,1.080,0,-38.928)">Unconformity</text>
</svg></body></html>
